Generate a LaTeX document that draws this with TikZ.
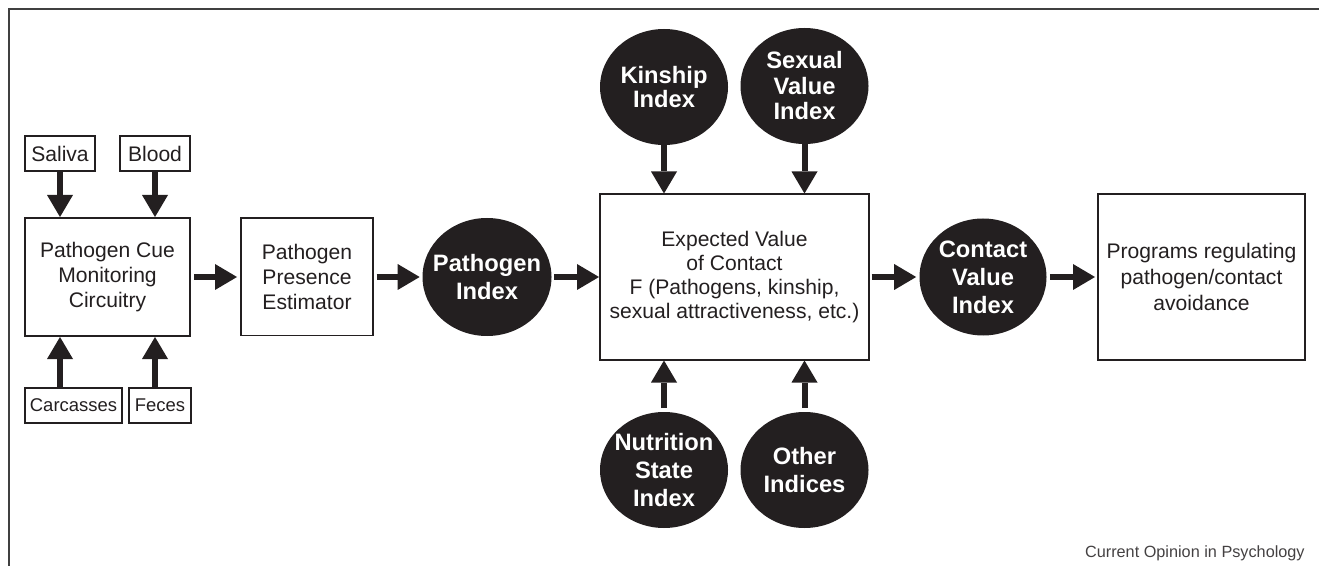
\documentclass[tikz,border=0pt]{standalone}
\usepackage{fontspec}
\setmainfont{Liberation Sans}
\usetikzlibrary{shapes.geometric,arrows.meta,positioning}
\definecolor{ink}{HTML}{231F20}
\tikzstyle{block} = [rectangle, draw=ink, line width=0.04cm, text=ink, align=center,
    inner sep=2pt, font=\fontsize{12}{14.2}\selectfont]
\tikzstyle{tag} = [block, minimum height=0.7cm, inner sep=1pt]
\tikzstyle{index} = [ellipse, fill=ink, text=white, align=center, inner sep=-0.35cm,
    minimum width=2.56cm, minimum height=2.32cm, font=\bfseries\fontsize{13.5}{16}\selectfont]
\tikzstyle{line} = [draw=ink, line width=0.12cm,
    -{Triangle[width=0.52cm, length=0.44cm, line width=0pt]}]

\begin{document}
\begin{tikzpicture}[node distance = 4cm]
			\useasboundingbox (0,0) rectangle (26.38,-11.32);
			\draw [black!75, line width=0.04cm] (26.38,-0.18) -- (0.18,-0.18) -- (0.18,-11.32);
			% Place nodes
			\node [block, minimum width=3.3cm, minimum height=2.36cm] (pc) at (2.15,-5.54) {Pathogen Cue\\Monitoring\\Circuitry};
			\node [block, right of=pc, node distance=3.99cm, minimum width=2.64cm, minimum height=2.34cm] (pp) {Pathogen\\Presence\\Estimator};
			\node [index, right of=pp, node distance=3.6cm, minimum width=2.58cm, minimum height=2.36cm] (pi) {Pathogen\\Index};
			\node [block, right of=pi, node distance=4.95cm, minimum width=5.38cm, minimum height=3.3cm,
			    font=\fontsize{12}{13.8}\selectfont] (ev) {Expected Value\\of Contact\\F (Pathogens, kinship,\\sexual attractiveness, etc.)};
			\node [index, right of=ev, node distance=4.97cm, minimum width=2.54cm, minimum height=2.34cm] (cv) {Contact\\Value\\Index};
			\node [block, right of=cv, node distance=4.37cm, minimum width=4.14cm, minimum height=3.3cm,
			    font=\fontsize{12}{14.6}\selectfont] (pr) {Programs regulating\\pathogen/contact\\avoidance};
			\node [tag, minimum width=1.4cm] (sa) at (1.20,-3.07) {Saliva};
			\node [tag, minimum width=1.4cm] (bl) at (3.10,-3.07) {Blood};
			\node [tag, minimum width=1.94cm, font=\fontsize{10.5}{12}\selectfont] (ca) at (1.47,-8.11) {Carcasses};
			\node [tag, minimum width=1.24cm, font=\fontsize{10.5}{12}\selectfont] (fe) at (3.20,-8.11) {Feces};
			\node [index, font=\bfseries\fontsize{13.5}{12.5}\selectfont] (ki) at (13.28,-1.74) {Kinship\\Index};
			\node [index, font=\bfseries\fontsize{13.5}{14.5}\selectfont] (sv) at (16.09,-1.72) {Sexual\\Value\\Index};
			\node [index] (ns) at (13.28,-9.40) {Nutrition\\State\\Index};
			\node [index] (oi) at (16.09,-9.40) {Other\\Indices};
			\node [anchor=base east, text=ink!85, inner sep=0pt, font=\fontsize{9.25}{11}\selectfont] (co) at (26.1,-11.14) {Current Opinion in Psychology};
			% Draw edges
			\path [line] (sa.south) -- (sa.south |- pc.north);
			\path [line] (bl.south) -- (bl.south |- pc.north);
			\path [line] (ca.north -| sa.south) -- (pc.south -| sa.south);
			\path [line] (fe.north -| bl.south) -- (pc.south -| bl.south);
			\path [line, shorten <=0.06cm, shorten >=0.06cm] (pc.east) -- (pp.west);
			\path [line, shorten <=0.05cm, shorten >=0.05cm] (pp.east) -- (pi.west);
			\path [line, shorten <=0.05cm] (pi.east) -- (ev.west);
			\path [line] (ki.south) -- (ki.south |- ev.north);
			\path [line] (sv.south) -- (sv.south |- ev.north);
			\path [line, shorten <=0.07cm] (ns.north) -- (ns.north |- ev.south);
			\path [line, shorten <=0.07cm] (oi.north) -- (oi.north |- ev.south);
			\path [line, shorten <=0.03cm, shorten >=0.06cm] (ev.east) -- (cv.west);
			\path [line, shorten <=0.06cm, shorten >=0.04cm] (cv.east) -- (pr.west);
	\end{tikzpicture}
\end{document}
